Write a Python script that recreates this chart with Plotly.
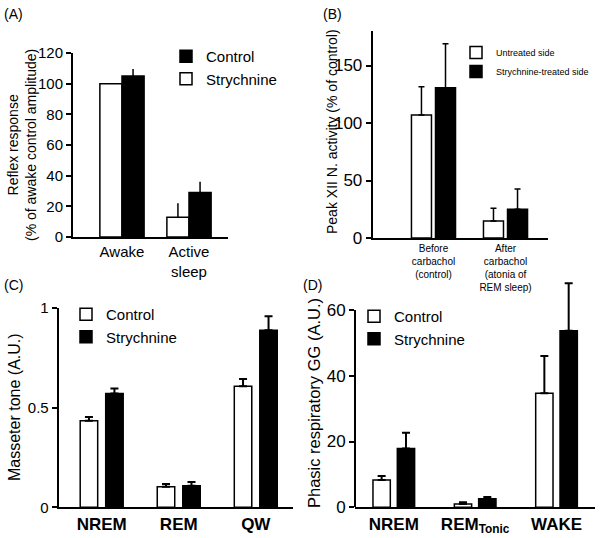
import plotly.graph_objects as go

# ---------------- data ----------------
# Panel A
a_cats = ["Awake", "Active sleep"]
a_labels = ["Awake", "Active<br>sleep"]
a_strych = [100, 12.8]
a_strych_err = [0, 9.2]
a_control = [105, 29]
a_control_err = [4.6, 7]

# Panel B
b_cats = ["Before", "After"]
b_labels = ["Before<br>carbachol<br>(control)", "After<br>carbachol<br>(atonia of<br>REM sleep)"]
b_untreated = [107, 14.8]
b_untreated_err = [24.6, 11]
b_treated = [130.7, 25]
b_treated_err = [38.3, 17.6]

# Panel C
c_cats = ["NREM", "REM", "QW"]
c_control = [0.433, 0.103, 0.607]
c_control_err = [0.02, 0.014, 0.036]
c_strych = [0.57, 0.108, 0.887]
c_strych_err = [0.025, 0.019, 0.07]

# Panel D
d_cats = ["NREM", "REM_Tonic", "WAKE"]
d_labels = ["NREM", "REM<sub>Tonic</sub>", "WAKE"]
d_control = [8.3, 1.0, 34.7]
d_control_err = [1.2, 0.5, 11.3]
d_strych = [17.9, 2.6, 53.7]
d_strych_err = [4.8, 0.5, 14.4]

FONT = "Liberation Sans, Arial, sans-serif"
W, H = 600, 538


def px_x(p):
    return p / W


def px_y(p):
    return 1 - p / H


fig = go.Figure()


def add_bar(x, y, err, fill, name, xa, ya, width, offset, cap, legend, thick=1.5):
    n = len(x)
    fig.add_trace(go.Bar(
        x=x, y=y, name=name, xaxis=xa, yaxis=ya,
        width=[width] * n, offset=[offset] * n,
        marker=dict(color=fill, line=dict(color="black", width=1.5)),
        error_y=dict(type="data", array=err, arrayminus=[0] * n, symmetric=False,
                     color="black", thickness=thick, width=cap),
        legend=legend,
    ))


# Panel A traces (white left, black right)
add_bar(a_cats, a_strych, a_strych_err, "white", "Strychnine", "x", "y", 0.33, -0.33, 0, "legend")
add_bar(a_cats, a_control, a_control_err, "black", "Control", "x", "y", 0.33, 0.0, 0, "legend")
# Panel B
add_bar(b_cats, b_untreated, b_untreated_err, "white", "Untreated side", "x2", "y2", 0.278, -0.306, 3, "legend2")
add_bar(b_cats, b_treated, b_treated_err, "black", "Strychnine-treated side", "x2", "y2", 0.278, 0.028, 3, "legend2")
# Panel C
add_bar(c_cats, c_control, c_control_err, "white", "Control", "x3", "y3", 0.227, -0.279, 4, "legend3", 2)
add_bar(c_cats, c_strych, c_strych_err, "black", "Strychnine", "x3", "y3", 0.227, 0.052, 4, "legend3", 2)
# Panel D
add_bar(d_cats, d_control, d_control_err, "white", "Control", "x4", "y4", 0.213, -0.256, 4, "legend4", 2)
add_bar(d_cats, d_strych, d_strych_err, "black", "Strychnine", "x4", "y4", 0.213, 0.043, 4, "legend4", 2)

axis_common = dict(showline=True, linecolor="black", linewidth=2, showgrid=False,
                   zeroline=False, fixedrange=True, automargin=False)


def xaxis(dom, rng, cats, labels, size, anchor, bold=False):
    d = dict(axis_common)
    d.update(domain=[px_x(dom[0]), px_x(dom[1])], range=rng, type="category",
             tickvals=cats, ticktext=[("<b>%s</b>" % t) if bold else t for t in labels],
             ticks="", tickfont=dict(family=FONT, size=size, color="black"), anchor=anchor)
    return d


def yaxis(dom, rng, tickvals, size, anchor, line=True):
    d = dict(axis_common)
    d.update(domain=[px_y(dom[1]), px_y(dom[0])], range=rng, tickvals=tickvals,
             ticks="outside", ticklen=5, tickwidth=1.5, tickcolor="black",
             tickfont=dict(family=FONT, size=size, color="black"), anchor=anchor,
             showline=line)
    return d


legend_common = dict(xanchor="left", yanchor="top", bgcolor="rgba(0,0,0,0)", itemwidth=30)

# D: 0 at 507.3 px, 60 at 310 px -> 70 at ~277 px (room for the tall error bar)
fig.update_layout(
    width=W, height=H, margin=dict(l=0, r=0, t=0, b=0, autoexpand=False),
    paper_bgcolor="white", plot_bgcolor="white", barmode="overlay",
    font=dict(family=FONT, color="black"),
    xaxis=xaxis((73, 228), [-0.731, 1.582], a_cats, a_labels, 15, "y"),
    yaxis=yaxis((53, 237), [0, 120], [0, 20, 40, 60, 80, 100, 120], 15, "x"),
    xaxis2=xaxis((372.7, 548), [-0.844, 1.59], b_cats, b_labels, 10, "y2"),
    yaxis2=yaxis((31, 238), [0, 180], [0, 50, 100, 150], 17, "x2"),
    xaxis3=xaxis((58.7, 293), [-0.558, 2.483], c_cats, c_cats, 17, "y3", True),
    yaxis3=yaxis((307.7, 507.3), [0, 1], [0, 0.5, 1], 15, "x3"),
    xaxis4=xaxis((355, 595), [-0.477, 2.473], d_cats, d_labels, 17, "y4", True),
    yaxis4=yaxis((277.1, 507.3), [0, 70], [0, 20, 40, 60], 17, "x4", line=False),
    legend=dict(x=px_x(166), y=px_y(40), traceorder="reversed",
                font=dict(family=FONT, size=15, color="black"), **legend_common),
    legend2=dict(x=px_x(456), y=px_y(38),
                 font=dict(family=FONT, size=9, color="black"), **legend_common),
    legend3=dict(x=px_x(66), y=px_y(298),
                 font=dict(family=FONT, size=15, color="black"), **legend_common),
    legend4=dict(x=px_x(354), y=px_y(300),
                 font=dict(family=FONT, size=15, color="black"), **legend_common),
)

# Panel D y-axis line only up to the top tick
fig.add_shape(type="line", xref="x4 domain", yref="y4", x0=0, x1=0,
              y0=0, y1=max(fig.layout.yaxis4.tickvals),
              line=dict(color="black", width=2))


def ann(text, x, y, size, angle=0, xanchor="center", yanchor="middle"):
    fig.add_annotation(text=text, x=px_x(x), y=px_y(y), xref="paper", yref="paper",
                       showarrow=False, textangle=angle, xanchor=xanchor, yanchor=yanchor,
                       font=dict(family=FONT, size=size, color="black"))


# Panel labels
ann("(A)", 2, 14, 14, xanchor="left")
ann("(B)", 321, 14, 14, xanchor="left")
ann("(C)", 2, 285, 14, xanchor="left")
ann("(D)", 301, 285, 14, xanchor="left")

# Y-axis titles
ann("Reflex response<br>(% of awake control amplitude)", 22, 145, 14, angle=-90)
ann("Peak XII N. activity (% of control)", 332, 132, 14, angle=-90)
ann("Masseter tone (A.U.)", 14, 407, 16, angle=-90)
ann("Phasic respiratory GG (A.U.)", 314, 403, 16.5, angle=-90)

fig.write_html("out.html", config={"displayModeBar": False},
               post_script="document.body.style.margin='0';")
